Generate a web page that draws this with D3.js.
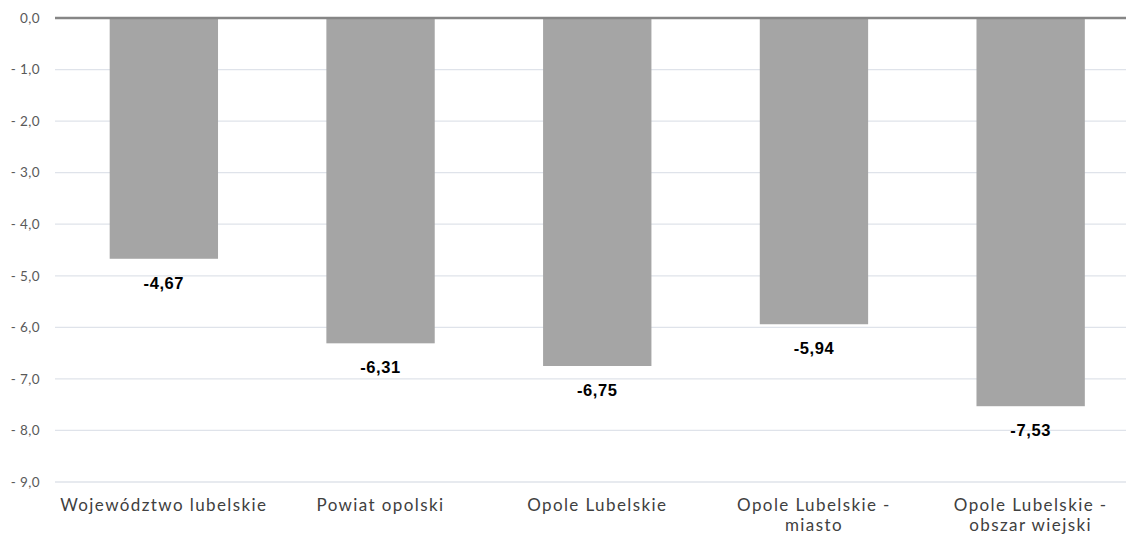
<!DOCTYPE html>
<meta charset="utf-8">
<style>
body { margin: 0; background: #fff; }
.axis .domain { display: none; }
</style>
<svg width="1126" height="538"></svg>
<script src="https://d3js.org/d3.v7.min.js"></script>
<script>

var categories = [["Województwo lubelskie"], ["Powiat opolski"], ["Opole Lubelskie"], ["Opole Lubelskie -", "miasto"], ["Opole Lubelskie -", "obszar wiejski"]];
var values = [-4.67, -6.31, -6.75, -5.94, -7.53];
var yTicks = [0, -1, -2, -3, -4, -5, -6, -7, -8, -9];

var svg = d3.select("svg");
var fmt = function(d) { return (d < 0 ? "- " : "") + d3.format(".1f")(Math.abs(d)).replace(".", ","); };

var x = d3.scaleBand()
    .domain(d3.range(categories.length))
    .range([55.5, 1139])
    .paddingInner(0.5)
    .paddingOuter(0.25);

var y = d3.scaleLinear()
    .domain([0, -9])
    .range([18, 482]);

// gridlines
svg.append("g")
  .selectAll("line")
  .data(yTicks.filter(function(d) { return d !== 0; }))
  .enter().append("line")
    .attr("x1", 55).attr("x2", 1126)
    .attr("y1", function(d) { return y(d); })
    .attr("y2", function(d) { return y(d); })
    .attr("stroke", "#dfe3ea")
    .attr("stroke-width", 1.3);

svg.append("g")
  .selectAll("rect")
  .data(values)
  .enter().append("rect")
    .attr("x", function(d, i) { return x(i); })
    .attr("y", y(0))
    .attr("width", x.bandwidth())
    .attr("height", function(d) { return y(d) - y(0); })
    .attr("fill", "#a5a5a5");

// zero line
svg.append("line")
    .attr("x1", 55).attr("x2", 1126)
    .attr("y1", y(0)).attr("y2", y(0))
    .attr("stroke", "#868686")
    .attr("stroke-width", 2.5);

svg.append("g")
    .attr("class", "axis")
    .attr("transform", "translate(40,0)")
    .call(d3.axisLeft(y).tickValues(yTicks).tickSize(0).tickPadding(0).tickFormat(function(d) { return d === 0 ? "0,0" : fmt(d); }))
    .selectAll("text")
      .attr("font-family", "Lato, 'Open Sans', sans-serif")
      .attr("font-size", 13.5)
      .attr("letter-spacing", 0.4)
      .attr("fill", "#595959");

// value labels
svg.append("g")
  .selectAll("text")
  .data(values)
  .enter().append("text")
    .attr("x", function(d, i) { return x(i) + x.bandwidth() / 2; })
    .attr("y", function(d) { return y(d) + 24; })
    .attr("dy", "0.35em")
    .attr("text-anchor", "middle")
    .attr("font-family", "'Liberation Sans', Arial, sans-serif")
    .attr("font-weight", "bold")
    .attr("font-size", 16.5)
    .attr("letter-spacing", 0.6)
    .attr("fill", "#000")
    .text(function(d) { return d3.format(".2f")(d).replace(".", ",").replace("−", "-"); });

// category labels
var cat = svg.append("g")
  .selectAll("text")
  .data(categories)
  .enter().append("text")
    .attr("x", function(d, i) { return x(i) + x.bandwidth() / 2; })
    .attr("y", 505)
    .attr("text-anchor", "middle")
    .attr("font-family", "Lato, 'Open Sans', sans-serif")
    .attr("font-size", 17)
    .attr("letter-spacing", 1.4)
    .attr("fill", "#404040");

cat.selectAll("tspan")
  .data(function(d) { return d; })
  .enter().append("tspan")
    .attr("x", function() { return d3.select(this.parentNode).attr("x"); })
    .attr("dy", function(d, i) { return i === 0 ? "0.35em" : "1.15em"; })
    .text(function(d) { return d; });

</script>
